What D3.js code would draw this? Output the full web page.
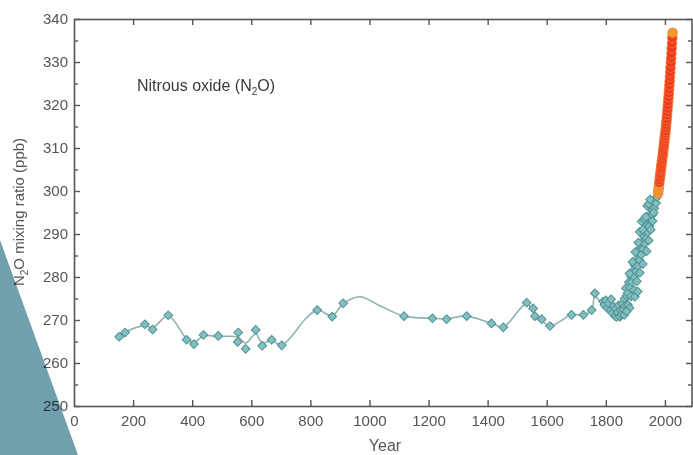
<!DOCTYPE html>
<html>
<head>
<meta charset="utf-8">
<script src="https://cdn.jsdelivr.net/npm/d3@7"></script>
<style>
  body { margin: 0; background: #fff; }
  svg { display: block; font-family: "Liberation Sans", Arial, sans-serif; }
</style>
</head>
<body>
<svg id="chart" width="693" height="455"></svg>
<script>
// ice core samples (year, ppb)
const iceYears = [153,173,240,266,319,381,406,438,488,554,556,581,615,637,669,703,823,874,911,1117,1213,1261,1329,1413,1453,1532,1554,1560,1583,1611,1684,1724,1752,1763,1791,1808,1837,1848,
  1795,1800,1805,1810,1815,1818,1822,1826,1830,1833,1836,1840,1843,1846,1850,1853,1856,1860,1863,1866,1870,
  1868,1874,1878,1882,1885,1888,1892,1895,1898,1902,1905,1908,1911,1914,1917,1920,1921,1923,1926,1929,1932,1934,1937,1939,1942,1944,1947,1949,1952,1955,1958,1961,1964,1967,1970,1973,
  1880,1890,1900,1910,1915,1925,1930,1935,1940,1945,1950,1938,1945,1952,1958,1962,1925,1915,1905,1895,1885,1875,1880,1862,1870,1898,1908];
const icePpb = [266.1,267.1,269.0,267.8,271.1,265.4,264.4,266.5,266.3,264.9,267.1,263.3,267.7,264.0,265.4,264.1,272.3,270.8,273.9,270.9,270.4,270.2,270.9,269.2,268.3,274.0,272.7,270.9,270.2,268.6,271.2,271.2,272.3,276.2,274.3,273.3,272.0,270.8,
  273.5,274.6,272.8,273.9,272.2,274.8,271.6,273.2,271.0,272.6,270.7,271.8,273.4,270.9,272.3,271.3,273.8,272.5,274.9,273.3,275.6,
  277.4,276.3,278.8,277.5,280.2,278.9,281.4,280.0,282.7,281.3,284.1,282.6,285.5,283.9,286.8,285.2,292.9,288.1,286.6,289.4,287.8,290.7,289.0,292.0,290.4,293.3,291.8,294.6,293.2,295.8,294.5,297.0,296.0,298.1,297.2,298.6,
  280.8,283.5,285.8,288.0,290.5,291.0,293.5,294.0,296.5,297.0,298.0,286.0,288.5,291.0,293.0,295.0,283.0,281.0,279.0,277.0,275.5,273.5,272.8,271.2,272.0,275.4,276.6];

// smoothed fit through ice core record
const fitYears = [150,175,240,266,319,381,406,438,488,555,581,615,637,669,703,740,780,823,874,911,968,1030,1117,1213,1261,1329,1413,1453,1532,1560,1611,1684,1724,1752,1763,1790,1830,1870,1900,1930,1960];
const fitPpb = [266.3,267.3,268.7,268.2,271.0,265.6,264.8,266.3,266.2,266.0,264.6,266.8,264.6,265.2,264.2,266.5,270.0,272.3,271.0,273.8,275.4,273.5,270.9,270.4,270.3,270.9,269.2,268.4,273.8,271.5,268.7,271.2,271.2,272.2,275.5,273.5,272.0,275.0,281.0,288.0,296.0];

// atmospheric measurements
const airYears = [1977,1978,1979,1980,1981,1982,1983,1984,1985,1986,1987,1988,1989,1990,1991,1992,1993,1994,1995,1996,1997,1998,1999,2000,2001,2002,2003,2004,2005,2006,2007,2008,2009,2010,2011,2012,2013,2014,2015,2016,2017,2018,2019,2020,2021,2022,2023,2024,2025,2026];
const airPpb = [299.5,300.2,300.8,301.4,302.0,302.6,303.1,303.7,304.2,304.8,305.3,305.9,306.4,307.0,307.5,308.1,308.6,309.2,309.8,310.4,311.0,311.6,312.2,312.8,313.4,314.0,314.7,315.4,316.1,316.8,317.6,318.4,319.2,320.0,320.9,321.8,322.7,323.6,324.6,325.6,326.6,327.6,328.7,329.8,330.9,332.0,333.2,334.4,335.6,336.8];

const xTicks = [0,200,400,600,800,1000,1200,1400,1600,1800,2000];
const yTicks = [250,260,270,280,290,300,310,320,330,340];

const svg = d3.select("#chart");
const plotL = 74, plotR = 693, plotT = 19, plotB = 406;
const x = d3.scaleLinear().domain([0, 2095]).range([plotL, plotR]);
const y = d3.scaleLinear().domain([250, 340]).range([plotB, plotT]);
const axisColor = "#555";

// frame
svg.append("rect")
  .attr("x", plotL + 0.5).attr("y", plotT + 0.5)
  .attr("width", plotR - plotL - 1.5).attr("height", plotB - plotT)
  .attr("fill", "none").attr("stroke", axisColor).attr("stroke-width", 1.6);

function styleAxis(g) {
  g.select(".domain").remove();
  g.selectAll("line").attr("stroke", axisColor).attr("stroke-width", 1.4);
  g.selectAll("text").attr("fill", axisColor).attr("font-size", 15)
    .attr("font-family", "'Liberation Sans', Arial, sans-serif");
}

const minorY = d3.range(255, 340, 10);

// left axis
svg.append("g").attr("transform", `translate(${plotL},0)`)
  .call(d3.axisLeft(y).tickValues(yTicks).tickSizeInner(-6).tickSizeOuter(0).tickPadding(6))
  .call(styleAxis);
svg.append("g").attr("transform", `translate(${plotL},0)`)
  .call(d3.axisLeft(y).tickValues(minorY).tickSizeInner(-4).tickSizeOuter(0).tickFormat(""))
  .call(styleAxis);

// right axis
svg.append("g").attr("transform", `translate(${plotR - 1},0)`)
  .call(d3.axisRight(y).tickValues(yTicks).tickSizeInner(-6).tickSizeOuter(0).tickFormat(""))
  .call(styleAxis);
svg.append("g").attr("transform", `translate(${plotR - 1},0)`)
  .call(d3.axisRight(y).tickValues(minorY).tickSizeInner(-4).tickSizeOuter(0).tickFormat(""))
  .call(styleAxis);

// bottom axis
const xb = svg.append("g").attr("transform", `translate(0,${plotB})`)
  .call(d3.axisBottom(x).tickValues(xTicks).tickFormat(d3.format("d")).tickSizeInner(-6).tickSizeOuter(0).tickPadding(9))
  .call(styleAxis);
xb.selectAll(".tick").filter(d => d === 0).select("line").remove();

// top axis
const xt = svg.append("g").attr("transform", `translate(0,${plotT})`)
  .call(d3.axisTop(x).tickValues(xTicks).tickSizeInner(-6).tickSizeOuter(0).tickFormat(""))
  .call(styleAxis);
xt.selectAll(".tick").filter(d => d === 0).select("line").remove();

// axis titles
svg.append("text")
  .attr("x", 385).attr("y", 451)
  .attr("text-anchor", "middle").attr("font-size", 16).attr("fill", axisColor)
  .text("Year");

const yl = svg.append("text")
  .attr("transform", "translate(24,212) rotate(-90)")
  .attr("text-anchor", "middle").attr("font-size", 15).attr("fill", axisColor);
yl.append("tspan").text("N");
yl.append("tspan").text("2").attr("font-size", 10).attr("dy", 4);
yl.append("tspan").text("O mixing ratio (ppb)").attr("dy", -4);

const title = svg.append("text")
  .attr("x", 137).attr("y", 91)
  .attr("font-size", 16).attr("fill", "#3a3a3a");
title.append("tspan").text("Nitrous oxide (N");
title.append("tspan").text("2").attr("font-size", 10).attr("dy", 4);
title.append("tspan").text("O)").attr("dy", -4);

// fit line
const line = d3.line()
  .x((d, i) => x(fitYears[i]))
  .y(d => y(d))
  .curve(d3.curveCatmullRom.alpha(0.5));
svg.append("path")
  .attr("d", line(fitPpb))
  .attr("fill", "none").attr("stroke", "#8fb1b0").attr("stroke-width", 1.6);

// ice core diamonds
const diamond = d3.symbol(d3.symbolSquare, 38);
svg.append("g").selectAll("path")
  .data(icePpb)
  .join("path")
  .attr("d", diamond)
  .attr("transform", (d, i) => `translate(${x(iceYears[i])},${y(d)}) rotate(45)`)
  .attr("fill", "#82bfbe").attr("stroke", "#4f9296").attr("stroke-width", 1);

// atmospheric circles
svg.append("g").selectAll("circle")
  .data(airPpb)
  .join("circle")
  .attr("cx", (d, i) => x(airYears[i]))
  .attr("cy", d => y(d))
  .attr("r", 4.8)
  .attr("fill", (d, i) => (i < 4 || i === airPpb.length - 1) ? "#f39a2c" : "#ee3a22")
  .attr("stroke", "#f47a30").attr("stroke-width", 0.8);

// decorative teal wedge
svg.append("path")
  .attr("d", d3.line()([[0, 240], [78, 455], [0, 455]]) + "Z")
  .attr("fill", "#6fa0ab")
  .style("mix-blend-mode", "multiply");
</script>
</body>
</html>
